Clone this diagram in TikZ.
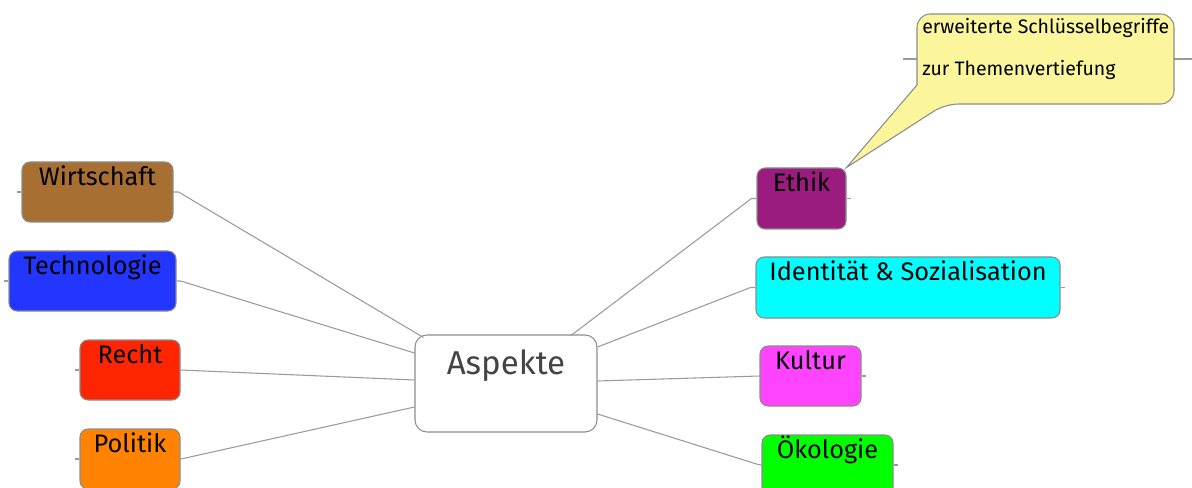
\documentclass[tikz,border=0pt]{standalone}
\usepackage{fontspec}
\setmainfont{Fira Sans}
\usetikzlibrary{calc}
\definecolor{bordergray}{HTML}{8C8C8C}
\definecolor{linegray}{HTML}{9A9A9A}
\definecolor{cwirt}{HTML}{A86F33}
\definecolor{ctech}{HTML}{2336FF}
\definecolor{crecht}{HTML}{FF2500}
\definecolor{cpol}{HTML}{FF8300}
\definecolor{ceth}{HTML}{9A1C7F}
\definecolor{cid}{HTML}{00FFFF}
\definecolor{ckult}{HTML}{FF44FF}
\definecolor{coek}{HTML}{00FF00}
\definecolor{ccall}{HTML}{FBF69C}
\definecolor{ctext}{HTML}{444444}
\begin{document}
\begin{tikzpicture}[x=0.75pt,y=-0.75pt,
  box/.style={draw=bordergray, line width=0.8pt, rounded corners=6pt, inner sep=0pt},
  lbl/.style={anchor=base, yshift=-18pt, font=\fontsize{19}{22}\selectfont, text=black, inner sep=0pt},
  conn/.style={draw=linegray, line width=0.8pt}]
\useasboundingbox (0,0) rectangle (1192,488);
% background line behind callout
\coordinate (hl) at (903,59);
\coordinate (hr) at (1192,59);
\draw[conn] (hl) -- (hr);
% central node
\node[box, minimum width=136.5pt, minimum height=72.75pt, rounded corners=9pt,
  label={[anchor=base, yshift=-30pt, font=\fontsize{24.8}{28}\selectfont, text=ctext]north:Aspekte}] (asp) at (506,383.5) {};
% left nodes
\node[box, fill=cwirt, minimum width=113.25pt, minimum height=45pt, label={[lbl]north:Wirtschaft}] (wi) at (97.5,192) {};
\node[box, fill=ctech, minimum width=125.25pt, minimum height=45pt, label={[lbl]north:Technologie}] (te) at (92.5,281) {};
\node[box, fill=crecht, minimum width=75pt, minimum height=45pt, label={[lbl]north:Recht}] (re) at (130,370) {};
\node[box, fill=cpol, minimum width=75pt, minimum height=45pt, label={[lbl]north:Politik}] (po) at (130,459) {};
% right nodes
\node[box, fill=ceth, minimum width=66.75pt, minimum height=45.75pt, label={[lbl]north:Ethik}] (et) at (801.5,198.5) {};
\node[box, fill=cid, minimum width=228pt, minimum height=45.75pt, label={[lbl]north:Identität \& Sozialisation}] (id) at (908,287.5) {};
\node[box, fill=ckult, minimum width=75.75pt, minimum height=45pt, label={[lbl]north:Kultur}] (ku) at (810.5,376) {};
\node[box, fill=coek, minimum width=98.25pt, minimum height=45pt, label={[lbl]north:Ökologie}] (oe) at (827.5,465) {};
% connectors
\draw[conn] (wi.east) -- ++(5,0) -- ($(asp.north west)+(9,3)$);
\draw[conn] (te.east) -- ++(4,0) -- ($(asp.west)+(0,-30.5)$);
\draw[conn] (re.east) -- ($(asp.west)+(0,-3.5)$);
\draw[conn] (po.east) -- ++(5,-1) -- ($(asp.west)+(0,23.5)$);
\draw[conn] (et.west) -- ++(-5,0) -- ($(asp.north)+(65,1)$);
\draw[conn] (id.west) -- ++(-5,0) -- ($(asp.east)+(0,-36.5)$);
\draw[conn] (ku.west) -- ($(asp.east)+(0,-2.5)$);
\draw[conn] (oe.west) -- ++(-5,-1) -- ($(asp.east)+(0,30.5)$);
% outer stubs
\draw[conn] (wi.west) -- ++(-4,0);
\draw[conn] (te.west) -- ++(-4,0);
\draw[conn] (re.west) -- ++(-4,0);
\draw[conn] (po.west) -- ++(-4,0);
\draw[conn] (et.east) -- ++(4,0);
\draw[conn] (id.east) -- ++(4,0);
\draw[conn] (ku.east) -- ++(4,0);
\draw[conn] (oe.east) -- ++(4,0);
% callout
\draw[draw=bordergray, line width=0.8pt, fill=ccall]
  (917,60) [rounded corners=10pt] -- (917,14) -- (1174,14) -- (1174,104) -- (945,104) [sharp corners] -- (et.north east) -- (917,85) -- cycle;
\node[anchor=base west, inner sep=0pt, font=\fontsize{14.6}{17}\selectfont] (cl1) at (922,34) {erweiterte Schlüsselbegriffe};
\node[anchor=base west, inner sep=0pt, font=\fontsize{14.6}{17}\selectfont] (cl2) at (922,76) {zur Themenvertiefung};
\end{tikzpicture}
\end{document}
